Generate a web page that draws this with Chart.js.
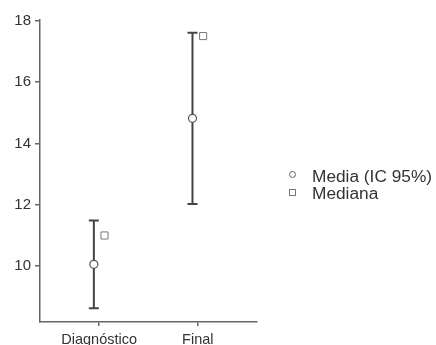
<!DOCTYPE html>
<html>
<head>
<meta charset="utf-8">
<script src="https://cdn.jsdelivr.net/npm/chart.js@4/dist/chart.umd.min.js"></script>
<style>
  html, body { margin: 0; padding: 0; background: #fff; }
  #wrap { position: relative; width: 436px; height: 345px; font-family: "Liberation Sans", Arial, sans-serif; }
  #chart { position: absolute; left: 0; top: 0; }
  .legend { position: absolute; left: 284px; top: 168px; color: #333; font-size: 17.3px; line-height: 17px; }
  .row { position: relative; height: 17px; padding-left: 28px; white-space: nowrap; }
  .sym { position: absolute; left: 4.5px; top: 2.5px; width: 7px; height: 7px; box-sizing: border-box; border: 1px solid #666; background: #fff; }
  .sym.circle { border-radius: 50%; }
  .sym.square { top: 3.5px; border-color: #777; }
</style>
</head>
<body>
<div id="wrap">
  <canvas id="chart" width="436" height="345"></canvas>
  <div class="legend">
    <div class="row"><span class="sym circle"></span>Media (IC 95%)</div>
    <div class="row"><span class="sym square"></span>Mediana</div>
  </div>
</div>
<script>
// Groups on the x axis
const categories = ['Diagnóstico', 'Final'];
// Mean with its 95% confidence interval, and median, per group
const means   = [10.06, 14.82];
const ciLow   = [8.63, 12.03];
const ciHigh  = [11.49, 17.61];
const medians = [11.0, 17.5];
// Y axis tick labels
const yTicks = [10, 12, 14, 16, 18];

const dodge = 0.054;        // mean/CI drawn left of the group, median right
const ink = '#444';
const axisColor = '#666';
const font = { family: '"Liberation Sans", Arial, sans-serif' };

const meanData = categories.map((c, i) => ({ x: i - dodge, y: means[i] }));
const medianData = categories.map((c, i) => ({ x: i + dodge, y: medians[i] }));

// one vertical whisker (with caps) per group
const whiskers = categories.map((c, i) => ({
  label: 'IC ' + c,
  data: [{ x: i - dodge, y: ciLow[i] }, { x: i - dodge, y: ciHigh[i] }],
  showLine: true,
  borderColor: ink,
  borderWidth: 2,
  pointStyle: 'line',
  pointRadius: 5,
  pointBorderWidth: 2,
  pointBorderColor: ink,
  pointHoverRadius: 5,
  order: 3
}));

new Chart(document.getElementById('chart'), {
  type: 'scatter',
  data: {
    datasets: [
      {
        label: 'Media (IC 95%)',
        data: meanData,
        pointStyle: 'circle',
        pointRadius: 4,
        pointHoverRadius: 4,
        backgroundColor: '#fff',
        borderColor: '#555',
        borderWidth: 1.2,
        order: 1
      },
      {
        label: 'Mediana',
        data: medianData,
        pointStyle: 'rect',
        pointRadius: 5,
        pointHoverRadius: 5,
        backgroundColor: '#fff',
        borderColor: '#777',
        borderWidth: 1,
        order: 2
      },
      ...whiskers
    ]
  },
  options: {
    responsive: false,
    devicePixelRatio: 1,
    animation: false,
    layout: { padding: { top: 19.5, right: 179, left: 0, bottom: 0 } },
    plugins: { legend: { display: false }, tooltip: { enabled: false } },
    scales: {
      x: {
        type: 'linear',
        min: -0.6,
        max: 1.6,
        afterBuildTicks: s => { s.ticks = categories.map((c, i) => ({ value: i })); },
        afterFit: s => { s.height = 23; },
        ticks: {
          callback: v => categories[v],
          color: '#333',
          font: { ...font, size: 14.5 },
          padding: 5.5,
          maxRotation: 0,
          autoSkip: false
        },
        grid: { drawOnChartArea: false, drawTicks: true, tickLength: 4, color: axisColor, lineWidth: 1.5 },
        border: { display: true, color: axisColor, width: 1.5 }
      },
      y: {
        min: 8.18,
        max: 18.04,
        afterBuildTicks: s => { s.ticks = yTicks.map(v => ({ value: v })); },
        afterFit: s => { s.width = 40; },
        ticks: {
          color: '#333',
          font: { ...font, size: 15 },
          padding: 4
        },
        grid: { drawOnChartArea: false, drawTicks: true, tickLength: 5, color: axisColor, lineWidth: 1.5 },
        border: { display: true, color: axisColor, width: 1.5 }
      }
    }
  }
});
</script>
</body>
</html>
